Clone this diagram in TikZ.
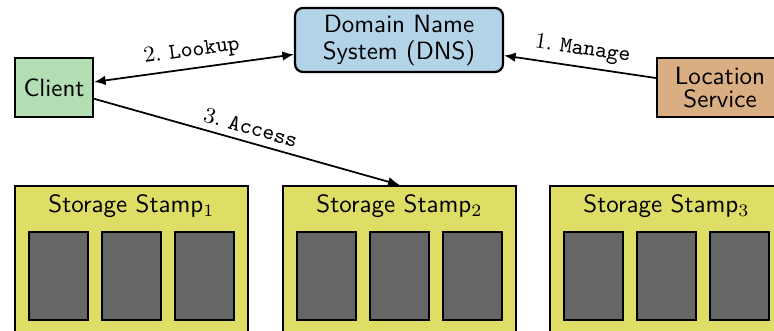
\documentclass[tikz,border=0pt]{standalone}
\usetikzlibrary{arrows.meta}

\definecolor{clientgreen}{HTML}{B3DDB3}
\definecolor{dnsblue}{HTML}{B3D3E8}
\definecolor{loctan}{HTML}{D9AE82}
\definecolor{stampyellow}{HTML}{DEDE66}
\definecolor{diskgray}{HTML}{666666}

\tikzset{
  box/.style={draw, line width=0.9pt, inner sep=0pt, align=center,
              font=\sffamily},
  clientbox/.style={box, fill=clientgreen, minimum width=31.2pt, minimum height=23.6pt},
  dnsbox/.style={box, fill=dnsblue, rounded corners=3.2pt,
                 minimum width=83.2pt, minimum height=25.6pt},
  locbox/.style={box, fill=loctan, minimum width=50.4pt, minimum height=23.6pt},
  stampbox/.style={box, fill=stampyellow, minimum width=93.2pt, minimum height=59.2pt},
  diskbox/.style={box, fill=diskgray, minimum width=23.6pt, minimum height=35.2pt},
  stamptitle/.style={anchor=base, inner sep=0pt, font=\sffamily},
  tip/.style={Latex[length=4.6pt,width=3.8pt]},
  link/.style={line width=0.7pt, {Latex[length=4.6pt,width=3.8pt]}-{Latex[length=4.6pt,width=3.8pt]}},
  onelink/.style={line width=0.7pt, -{Latex[length=4.6pt,width=3.8pt]}},
  backlink/.style={line width=0.7pt, {Latex[length=4.6pt,width=3.8pt]}-},
  lbl/.style={font=\small, inner sep=2.5pt}
}

\begin{document}
\begin{tikzpicture}[x=0.4pt, y=-0.4pt]
  % visible frame of the figure
  \path[use as bounding box, clip] (0,0) rectangle (774,331);

  % top row
  \node[clientbox] (client) at (54,87.5) {Client};
  \node[dnsbox] (dns) at (399,40) {Domain Name\\[-1.2pt]System (DNS)};
  \node[locbox] (loc) at (720,87.5) {Location\\[-2.8pt]Service};

  % storage stamps with their three disks each
  \foreach \i/\x in {1/131.5, 2/399.5, 3/666.5} {
    \node[stampbox] (stamp\i) at (\x,260) {};
    \node[stamptitle] (title\i) at (\x,213) {Storage Stamp$_\i$};
    \node[diskbox] (disk\i a) at (\x-73,276) {};
    \node[diskbox] (disk\i b) at (\x,276) {};
    \node[diskbox] (disk\i c) at (\x+73,276) {};
  }

  % connectors
  \draw[link] (client) -- node[lbl, above, sloped] {2.~\texttt{Lookup}} (dns);
  \draw[backlink] (dns) -- node[lbl, above, sloped] {1.~\texttt{Manage}} (loc);
  \draw[onelink] (client) -- node[lbl, above, sloped] {3.~\texttt{Access}} (stamp2.north);
\end{tikzpicture}
\end{document}
